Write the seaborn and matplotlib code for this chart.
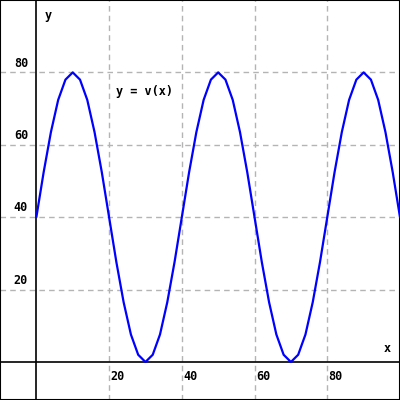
import matplotlib
matplotlib.use("Agg")
import matplotlib.pyplot as plt
import seaborn as sns
import pandas as pd

x_vals = [0, 2, 4, 6, 8, 10, 12, 14, 16, 18, 20, 22, 24, 26, 28, 30, 32, 34, 36, 38,
          40, 42, 44, 46, 48, 50, 52, 54, 56, 58, 60, 62, 64, 66, 68, 70, 72, 74, 76, 78,
          80, 82, 84, 86, 88, 90, 92, 94, 96, 98, 100]
y_vals = [40, 52.4, 63.5, 72.4, 78.0, 80, 78.0, 72.4, 63.5, 52.4,
          40, 27.6, 16.5, 7.6, 2.0, 0, 2.0, 7.6, 16.5, 27.6,
          40, 52.4, 63.5, 72.4, 78.0, 80, 78.0, 72.4, 63.5, 52.4,
          40, 27.6, 16.5, 7.6, 2.0, 0, 2.0, 7.6, 16.5, 27.6,
          40, 52.4, 63.5, 72.4, 78.0, 80, 78.0, 72.4, 63.5, 52.4, 40]
x_ticks = [20, 40, 60, 80]
y_ticks = [20, 40, 60, 80]
x_tick_labels = ["20", "40", "60", "80"]
y_tick_labels = ["20", "40", "60", "80"]

sns.set_style("white")
plt.rcParams['font.family'] = ['DejaVu Sans Mono']

df = pd.DataFrame({"x": x_vals, "y": y_vals})

fig = plt.figure(figsize=(4, 4), dpi=100)
ax = fig.add_axes([0, 0, 1, 1])
ax.set_xlim(-10, 100)
ax.set_ylim(-10.5, 100)

for t in x_ticks:
    ax.axvline(t, color="#b4b4b4", lw=1, ls=(0, (4, 3)), zorder=1)
for t in y_ticks:
    ax.axhline(t, color="#b4b4b4", lw=1, ls=(0, (4, 3)), zorder=1)
ax.axhline(0, color="black", lw=1.2, zorder=2)
ax.axvline(0, color="black", lw=1.2, zorder=2)

sns.lineplot(data=df, x="x", y="y", ax=ax, color="#0000ff", lw=1.6, zorder=3,
             sort=False, estimator=None)

fs = 8.5
tc = "black"
for t, lab in zip(x_ticks, x_tick_labels):
    ax.text(t + 0.4, -2.2, lab, ha="left", va="top", fontsize=fs, fontweight="bold", color=tc)
for t, lab in zip(y_ticks, y_tick_labels):
    ax.text(-2.3, t + 0.8, lab, ha="right", va="bottom", fontsize=fs, fontweight="bold", color=tc)
ax.text(2.3, 95.8, "y", ha="left", va="center", fontsize=fs, fontweight="bold", color=tc)
ax.text(96.5, 3.6, "x", ha="center", va="center", fontsize=fs, fontweight="bold", color=tc)
ax.text(22, 74.8, "y = v(x)", ha="left", va="center", fontsize=fs, fontweight="bold", color=tc)

ax.set_xticks([])
ax.set_yticks([])
ax.set_xlabel("")
ax.set_ylabel("")
for s in ax.spines.values():
    s.set_visible(True)
    s.set_color("black")
    s.set_linewidth(1.5)

fig.savefig("out.png", dpi=100)
